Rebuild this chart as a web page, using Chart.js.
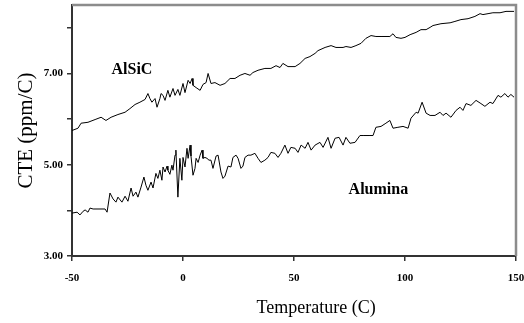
<!DOCTYPE html>
<html>
<head>
<meta charset="utf-8">
<script src="https://cdn.jsdelivr.net/npm/chart.js@4/dist/chart.umd.min.js"></script>
<style>
  body { margin: 0; background: #fff; }
</style>
</head>
<body>
<canvas id="cteChart" width="524" height="323"></canvas>
<script>
  // AlSiC curve (temperature C, CTE ppm/C)
  const alsicTemp = [-50.0, -47.3, -45.9, -42.8, -39.6, -36.9, -34.7, -32.4, -29.3, -26.1, -23.9, -21.6, -19.4, -17.1, -15.8, -14.9, -14.0, -12.6, -11.7, -10.4, -9.9, -9.0, -8.1, -6.8, -5.9, -4.5, -3.6, -2.3, -1.4, 0.0, 0.9, 2.3, 3.2, 4.1, 4.5, 5.9, 7.7, 9.0, 10.4, 11.3, 12.6, 14.4, 16.7, 18.9, 21.2, 23.4, 25.7, 27.9, 30.2, 31.5, 33.8, 36.9, 39.6, 41.9, 43.7, 45.0, 47.3, 50.5, 52.7, 55.0, 57.2, 59.5, 60.8, 64.0, 66.7, 68.9, 72.1, 73.4, 75.7, 77.9, 80.2, 82.4, 84.7, 86.9, 89.2, 93.2, 94.6, 95.9, 98.2, 100.0, 102.3, 105.0, 107.2, 109.5, 111.3, 112.6, 116.2, 120.3, 122.5, 125.2, 128.4, 131.5, 133.8, 135.1, 137.4, 139.6, 142.8, 145.5, 149.1];
  const alsicCte = [5.75, 5.80, 5.91, 5.93, 5.99, 6.04, 5.97, 6.04, 6.10, 6.15, 6.23, 6.32, 6.37, 6.43, 6.56, 6.45, 6.37, 6.45, 6.26, 6.45, 6.56, 6.52, 6.41, 6.63, 6.48, 6.67, 6.52, 6.65, 6.52, 6.78, 6.58, 6.85, 6.78, 6.89, 6.74, 6.69, 6.63, 6.76, 6.80, 7.00, 6.78, 6.80, 6.74, 6.78, 6.89, 6.89, 6.96, 7.00, 6.96, 7.02, 7.07, 7.11, 7.11, 7.17, 7.13, 7.22, 7.15, 7.15, 7.22, 7.33, 7.37, 7.44, 7.50, 7.57, 7.61, 7.57, 7.57, 7.59, 7.57, 7.61, 7.66, 7.77, 7.83, 7.81, 7.81, 7.81, 7.87, 7.79, 7.77, 7.79, 7.85, 7.90, 7.96, 7.96, 8.01, 8.05, 8.09, 8.11, 8.14, 8.18, 8.20, 8.25, 8.31, 8.29, 8.31, 8.33, 8.33, 8.36, 8.36];

  // Alumina curve
  const aluminaTemp = [-50.0, -47.7, -46.4, -45.0, -44.1, -42.8, -41.9, -40.5, -35.1, -34.2, -32.9, -31.5, -30.2, -29.3, -27.5, -26.1, -24.8, -23.4, -22.5, -21.2, -20.3, -18.9, -17.6, -16.7, -15.8, -14.4, -13.5, -12.2, -11.3, -10.4, -9.5, -9.0, -8.1, -7.2, -6.8, -5.9, -5.0, -4.5, -3.6, -3.2, -2.3, -1.4, -0.5, 0.0, 0.9, 1.8, 2.3, 3.2, 3.6, 4.5, 5.4, 5.9, 6.8, 7.7, 8.6, 9.0, 9.9, 10.8, 11.7, 12.6, 13.5, 14.9, 15.8, 17.1, 18.0, 18.9, 20.3, 21.6, 22.5, 23.9, 24.8, 26.1, 27.0, 27.9, 29.3, 30.6, 32.4, 33.8, 35.1, 36.9, 38.3, 39.6, 41.4, 42.8, 44.1, 45.9, 47.3, 48.6, 50.5, 51.8, 53.2, 55.0, 56.3, 57.7, 59.5, 61.7, 63.1, 65.3, 66.7, 68.5, 70.3, 72.1, 73.4, 75.2, 77.5, 79.7, 81.5, 83.8, 85.6, 86.9, 89.2, 91.4, 93.2, 94.6, 96.8, 99.1, 101.4, 102.7, 105.0, 105.9, 107.7, 109.5, 111.3, 113.5, 115.8, 117.1, 118.5, 120.7, 123.0, 124.8, 126.1, 127.5, 129.7, 132.0, 134.2, 136.0, 138.3, 139.6, 141.9, 143.2, 145.0, 146.4, 147.7, 149.1];
  const aluminaCte = [3.94, 3.96, 3.90, 3.98, 4.01, 3.96, 4.05, 4.03, 4.03, 3.96, 4.38, 4.25, 4.18, 4.29, 4.18, 4.31, 4.20, 4.49, 4.31, 4.40, 4.29, 4.51, 4.73, 4.55, 4.44, 4.62, 4.49, 4.81, 4.70, 4.88, 4.66, 4.95, 4.84, 4.97, 4.88, 4.79, 4.99, 4.88, 5.21, 5.32, 4.29, 5.14, 4.66, 5.16, 4.95, 5.36, 5.14, 5.43, 5.19, 4.77, 4.92, 5.14, 5.05, 5.21, 5.32, 5.14, 5.16, 5.14, 5.10, 5.10, 4.92, 5.19, 5.21, 4.84, 4.70, 4.75, 4.97, 4.95, 5.16, 5.21, 5.14, 4.92, 4.97, 5.16, 5.21, 5.21, 5.25, 5.14, 5.05, 5.10, 5.16, 5.27, 5.25, 5.16, 5.25, 5.43, 5.25, 5.38, 5.36, 5.27, 5.43, 5.36, 5.49, 5.32, 5.43, 5.49, 5.38, 5.60, 5.36, 5.58, 5.60, 5.43, 5.60, 5.47, 5.49, 5.64, 5.64, 5.64, 5.64, 5.82, 5.84, 5.91, 5.97, 5.80, 5.82, 5.84, 5.80, 6.02, 6.15, 6.13, 6.37, 6.13, 6.08, 6.08, 6.15, 6.08, 6.13, 6.04, 6.19, 6.26, 6.19, 6.34, 6.30, 6.41, 6.34, 6.28, 6.37, 6.34, 6.52, 6.48, 6.56, 6.48, 6.54, 6.48];

  const xTickValues = [-50, 0, 50, 100, 150];
  const yLabelValues = [3, 5, 7];

  // series names drawn inside the plot, anchored in data units
  const seriesLabels = [
    { text: 'AlSiC', x: -23, y: 7.07 },
    { text: 'Alumina', x: 88, y: 4.46 }
  ];

  const serif = "'Liberation Serif', 'Times New Roman', serif";

  const zip = (xs, ys) => xs.map((x, i) => ({ x: x, y: ys[i] }));

  // drop the extra room chart.js keeps for edge tick labels
  const noEdgePadding = s => {
    s.paddingTop = 0;
    s.paddingBottom = 0;
    s.paddingLeft = 0;
    s.paddingRight = 0;
  };

  // gray frame on top and right, the in-plot labels, and the x title
  // (the original title sits a bit right of the plot centre)
  const framePlugin = {
    id: 'frame',
    afterDraw(chart) {
      const { ctx, chartArea: a, scales } = chart;
      ctx.save();
      ctx.strokeStyle = '#8c8c8c';
      ctx.lineWidth = 2.5;
      ctx.beginPath();
      ctx.moveTo(a.left, a.top);
      ctx.lineTo(a.right, a.top);
      ctx.lineTo(a.right, a.bottom);
      ctx.stroke();

      ctx.fillStyle = '#000';
      ctx.font = "bold 16px " + serif;
      ctx.textAlign = 'center';
      ctx.textBaseline = 'middle';
      seriesLabels.forEach(l => {
        ctx.fillText(l.text, scales.x.getPixelForValue(l.x), scales.y.getPixelForValue(l.y));
      });

      ctx.font = "18px " + serif;
      ctx.fillText('Temperature (C)', scales.x.getPixelForValue(60), chart.height - 15);
      ctx.restore();
    }
  };

  const cteChart = new Chart(document.getElementById('cteChart'), {
    type: 'line',
    data: {
      datasets: [
        {
          label: 'AlSiC',
          data: zip(alsicTemp, alsicCte),
          borderColor: '#000',
          borderWidth: 1,
          pointRadius: 0,
          tension: 0
        },
        {
          label: 'Alumina',
          data: zip(aluminaTemp, aluminaCte),
          borderColor: '#000',
          borderWidth: 1,
          pointRadius: 0,
          tension: 0
        }
      ]
    },
    options: {
      responsive: false,
      animation: false,
      layout: { padding: { top: 5, right: 8, left: 0, bottom: 0 } },
      plugins: {
        legend: { display: false },
        tooltip: { enabled: false }
      },
      scales: {
        x: {
          type: 'linear',
          min: -50,
          max: 150,
          afterFit(s) { s.height = 67; noEdgePadding(s); },
          afterBuildTicks(s) { s.ticks = xTickValues.map(v => ({ value: v })); },
          border: { color: '#333', width: 2 },
          grid: { drawOnChartArea: false, tickLength: 5, color: '#333', lineWidth: 1.5 },
          ticks: {
            color: '#000',
            padding: 11,
            maxRotation: 0,
            font: { family: serif, size: 11, weight: 'bold' }
          }
        },
        y: {
          min: 3,
          max: 8.5,
          afterFit(s) { s.width = 72; noEdgePadding(s); },
          border: { color: '#333', width: 2 },
          grid: { drawOnChartArea: false, tickLength: 5, color: '#333', lineWidth: 1.5 },
          ticks: {
            stepSize: 1,
            includeBounds: false,
            color: '#000',
            padding: 4,
            font: { family: serif, size: 11, weight: 'bold' },
            callback: v => yLabelValues.includes(v) ? v.toFixed(2) : ''
          },
          title: {
            display: true,
            text: 'CTE (ppm/C)',
            color: '#000',
            padding: { top: 14 },
            font: { family: serif, size: 21 }
          }
        }
      }
    },
    plugins: [framePlugin]
  });
</script>
</body>
</html>
